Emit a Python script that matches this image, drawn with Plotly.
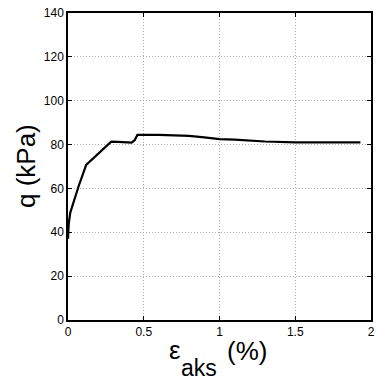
import plotly.graph_objects as go

# Axial strain (%) and deviator stress q (kPa)
strain = [0, 0.005, 0.015, 0.028, 0.07, 0.12, 0.2, 0.285, 0.33, 0.42, 0.44, 0.458,
          0.6, 0.8, 0.9, 1.0, 1.1, 1.2, 1.3, 1.5, 1.7, 1.93]
q = [37, 44, 49, 52, 61, 70.7, 76, 81.3, 81.2, 80.9, 82, 84.4,
     84.4, 84.0, 83.3, 82.5, 82.3, 81.9, 81.4, 81.0, 81.1, 81.0]

x_ticks = [0, 0.5, 1, 1.5, 2]
x_labels = ["0", "0.5", "1", "1.5", "2"]
y_ticks = [0, 20, 40, 60, 80, 100, 120, 140]

FONT = "Liberation Sans, Arial, sans-serif"
W, H = 377, 381
ML, MR, MT, MB = 68, 2, 13, 61
PW, PH = W - ML - MR, H - MT - MB


def px_to_paper(px, py):
    return (px - ML) / PW, (H - MB - py) / PH


fig = go.Figure()
fig.add_trace(go.Scatter(x=strain, y=q, mode="lines",
                         line=dict(color="black", width=2.2)))

axis_common = dict(
    showline=True, linecolor="black", linewidth=1.5, mirror="ticks",
    ticks="inside", ticklen=4, tickwidth=1, tickcolor="black",
    showgrid=True, gridcolor="#aaaaaa", griddash="1px,2px", gridwidth=1,
    zeroline=False, tickfont=dict(family=FONT, size=12, color="black"),
)

fig.update_xaxes(range=[0, 2], tickvals=x_ticks, ticktext=x_labels, **axis_common)
fig.update_yaxes(range=[0, 140], tickvals=y_ticks, **axis_common)

# Axis titles (epsilon with a deep subscript, MATLAB-style)
title_parts = [
    ("ε", 176.5, 349.5, 26, 0),
    ("aks", 201.0, 367.5, 23, 0),
    ("(%)", 249.0, 350.5, 26, 0),
    ("q (kPa)", 25.5, 166.0, 26, -90),
]
for text, px, py, size, angle in title_parts:
    ax, ay = px_to_paper(px, py)
    fig.add_annotation(text=text, x=ax, y=ay, xref="paper", yref="paper",
                       xanchor="center", yanchor="middle", showarrow=False,
                       textangle=angle,
                       font=dict(family=FONT, size=size, color="black"))

fig.update_layout(
    width=W, height=H,
    margin=dict(l=ML, r=MR, t=MT, b=MB),
    plot_bgcolor="white", paper_bgcolor="white",
    showlegend=False,
)

fig.write_html("out.html")
